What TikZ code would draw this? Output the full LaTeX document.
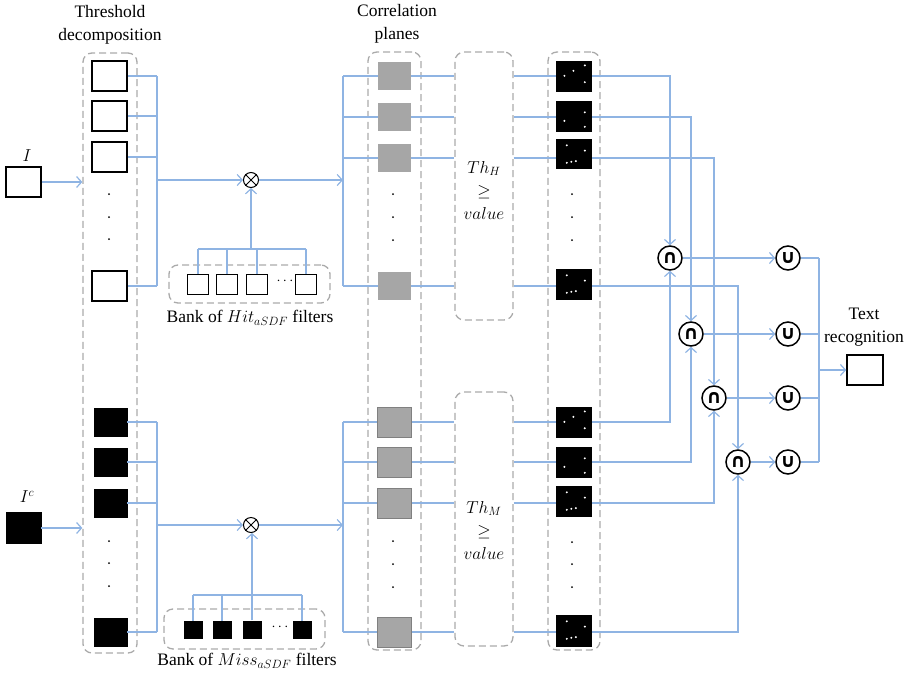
\documentclass[tikz,border=0pt]{standalone}
\usepackage{fontspec}
\setmainfont{Liberation Serif}
\newfontfamily\symfont{DejaVu Sans}
\usetikzlibrary{arrows.meta}
\definecolor{lblue}{RGB}{143,180,227}
\definecolor{dgray}{RGB}{170,170,170}
\definecolor{pgray}{RGB}{166,166,166}
\definecolor{pgrayb}{RGB}{128,128,128}
\newcommand{\patA}[1]{\begin{scope}[shift={(#1.north west)}]
  \fill[white] (8.6,15) circle (1.1) (17.6,10) circle (1.1) (29,4.6) circle (1.1) (29,21.4) circle (1.1);\end{scope}}
\newcommand{\patB}[1]{\begin{scope}[shift={(#1.north west)}]
  \fill[white] (8.6,20) circle (1.1) (29,11.5) circle (1.1) (29,26) circle (1.1);\end{scope}}
\newcommand{\patC}[1]{\begin{scope}[shift={(#1.north west)}]
  \fill[white] (11,6.5) circle (1.1) (29,11.8) circle (1.1) (11,24) circle (1.1) (15.5,23) circle (1.1) (20,22.3) circle (1.1);\end{scope}}
\begin{document}
\begin{tikzpicture}[x=1pt,y=-1pt,
  every node/.style={font=\fontsize{17.5}{23}\selectfont},
  conn/.style={draw=lblue,line width=1.2pt},
  arr/.style={conn,-{Straight Barb[length=5pt,width=11pt]}},
  dbox/.style={draw=dgray,line width=1.3pt,dash pattern=on 7pt off 4pt,rounded corners=9pt,inner sep=0pt},
  wsq/.style={draw=black,line width=1.5pt,fill=white,inner sep=0pt,minimum width=35pt,minimum height=30pt},
  bsq/.style={draw=black,fill=black,inner sep=0pt,minimum width=33pt,minimum height=28pt},
  gsqa/.style={fill=pgray,inner sep=0pt,minimum width=33pt,minimum height=28pt},
  gsqb/.style={fill=pgray,draw=pgrayb,line width=1pt,inner sep=0pt,minimum width=34pt,minimum height=30pt},
  dsq/.style={fill=black,inner sep=0pt,minimum width=36pt,minimum height=31pt},
  hsq/.style={draw=black,line width=1.5pt,fill=white,inner sep=0pt,minimum width=21pt,minimum height=20pt},
  msq/.style={fill=black,inner sep=0pt,minimum width=19pt,minimum height=18pt},
  otimesn/.style={circle,draw=black,line width=1pt,minimum size=15pt,inner sep=0pt},
  setop/.style={circle,draw=black,line width=1.5pt,minimum size=24pt,inner sep=0pt,font=\symfont\bfseries\fontsize{19}{19}\selectfont},
  vdot/.style={circle,fill=black,inner sep=0pt,minimum size=2pt}
]
\useasboundingbox (0,0) rectangle (911,673);

% ---------- labels ----------
\node[align=center] (lthr) at (110,25) {Threshold\\decomposition};
\node[align=center] (lcor) at (397,24) {Correlation\\planes};
\node[align=center] (ltxt) at (864,327) {Text\\recognition};
\node (lI) at (27,156) {$I$};
\node (lIc) at (27,497) {$I^c$};

% ---------- dashed boxes ----------
\node[dbox,minimum width=54pt,minimum height=600pt] (tdbox) at (110,353) {};
\node[dbox,minimum width=161pt,minimum height=38pt] (hbank) at (249.5,284) {};
\node[dbox,minimum width=161pt,minimum height=40pt] (mbank) at (244.5,629) {};
\node[dbox,minimum width=53pt,minimum height=598pt] (cbox) at (394.5,351) {};
\node[dbox,minimum width=58pt,minimum height=268pt] (thh) at (484,186) {};
\node[dbox,minimum width=58pt,minimum height=254pt] (thm) at (484,519) {};
\node[dbox,minimum width=52pt,minimum height=598pt] (rbox) at (574,351) {};

\node[align=center] (thhtxt) at (484,190) {$Th_H$\\$\geq$\\$value$};
\node[align=center] (thmtxt) at (484,530) {$Th_M$\\$\geq$\\$value$};

% ---------- inputs ----------
\node[wsq] (I) at (23.5,182) {};
\node[bsq,minimum width=35pt,minimum height=31pt] (Ic) at (23.5,528) {};

% ---------- threshold squares ----------
\node[wsq] (t1) at (109.5,76) {};
\node[wsq] (t2) at (109.5,116) {};
\node[wsq] (t3) at (109.5,157) {};
\node[wsq] (t4) at (109.5,286) {};
\node[bsq] (b1) at (110.5,422) {};
\node[bsq] (b2) at (110.5,462) {};
\node[bsq] (b3) at (110.5,503) {};
\node[bsq] (b4) at (110.5,632) {};
\foreach \y in {194,217,239,541,563,586} \node[vdot] at (109,\y) {};

% ---------- filter banks ----------
\node[hsq] (hb1) at (198,284.5) {};
\node[hsq] (hb2) at (227,284.5) {};
\node[hsq] (hb3) at (257,284.5) {};
\node[hsq] (hb4) at (306,284.5) {};
\node[font=\fontsize{14}{14}\selectfont] (hdots) at (285,281) {$\cdots$};
\node[msq] (mb1) at (193,630) {};
\node[msq] (mb2) at (222,630) {};
\node[msq] (mb3) at (252,629.5) {};
\node[msq] (mb4) at (302,630) {};
\node[font=\fontsize{14}{14}\selectfont] (mdots) at (280,627) {$\cdots$};
\node (lhit) at (250,318) {Bank of $Hit_{aSDF}$ filters};
\node (lmiss) at (247,661) {Bank of $Miss_{aSDF}$ filters};

% ---------- otimes ----------
\node[otimesn] (ot1) at (251,180) {};
\node[otimesn] (ot2) at (251,525) {};
\foreach \n in {ot1,ot2} \draw[line width=1pt] (\n.45) -- (\n.225) (\n.135) -- (\n.315);

% ---------- correlation planes ----------
\node[gsqa] (g1) at (394.5,76) {};
\node[gsqa] (g2) at (394.5,117) {};
\node[gsqa] (g3) at (394.5,158) {};
\node[gsqa] (g4) at (394.5,286) {};
\node[gsqb] (n1) at (394.5,422) {};
\node[gsqb] (n2) at (394.5,462) {};
\node[gsqb] (n3) at (394.5,503) {};
\node[gsqb] (n4) at (394.5,632) {};
\foreach \y in {194,217,240,541,564,587} \node[vdot] at (393,\y) {};

% ---------- thresholded planes ----------
\node[dsq] (h1) at (574,76.5) {};
\node[dsq] (h2) at (574,116.5) {};
\node[dsq,minimum height=30pt] (h3) at (574,154) {};
\node[dsq] (h4) at (574,284.5) {};
\node[dsq] (m1) at (574,422.5) {};
\node[dsq] (m2) at (574,462.5) {};
\node[dsq] (m3) at (574,501.5) {};
\node[dsq,minimum height=32pt] (m4) at (574,631) {};
\patA{h1}\patB{h2}\patC{h3}\patC{h4}
\patA{m1}\patB{m2}\patC{m3}\patC{m4}
\foreach \y in {194,217,240,542,564,587} \node[vdot] at (572,\y) {};

% ---------- set operations ----------
\node[setop] (cap1) at (670,258) {∩};
\node[setop] (cap2) at (691,334) {∩};
\node[setop] (cap3) at (714,398) {∩};
\node[setop] (cap4) at (738,462) {∩};
\node[setop] (cup1) at (788,258) {∪};
\node[setop] (cup2) at (788,334) {∪};
\node[setop] (cup3) at (788,398) {∪};
\node[setop] (cup4) at (788,462) {∪};
\node[wsq,minimum width=36pt] (res) at (865,370) {};

% ---------- coordinates ----------
\coordinate (tbus) at (157,180);
\coordinate (bbus) at (157,525);
\coordinate (hbus) at (251,249);
\coordinate (mbus) at (252,595);
\coordinate (cbus) at (343,180);
\coordinate (cbusm) at (343,525);
\coordinate (rbus) at (819,370);

% ---------- connectors: inputs ----------
\draw[arr] (I.east) -- (I.east -| tdbox.west);
\draw[arr] (Ic.east) -- (Ic.east -| tdbox.west);

% threshold -> otimes
\foreach \s in {t1,t2,t3,t4} \draw[conn] (\s.east) -- (\s.east -| tbus);
\draw[conn] (t1.east -| tbus) -- (t4.east -| tbus);
\draw[arr] (tbus) -- (ot1.west);
\foreach \s in {b1,b2,b3,b4} \draw[conn] (\s.east) -- (\s.east -| bbus);
\draw[conn] (b1.east -| bbus) -- (b4.east -| bbus);
\draw[arr] (bbus) -- (ot2.west);

% banks -> otimes
\foreach \s in {hb1,hb2,hb3,hb4} \draw[conn] (\s.north) -- (\s.north |- hbus);
\draw[conn] (hb1.north |- hbus) -- (hb4.north |- hbus);
\draw[arr] (hbus) -- (ot1.south -| hbus);
\foreach \s in {mb1,mb2,mb3,mb4} \draw[conn] (\s.north) -- (\s.north |- mbus);
\draw[conn] (mb1.north |- mbus) -- (mb4.north |- mbus);
\draw[arr] (mbus) -- (ot2.south -| mbus);

% otimes -> correlation bus
\draw[arr] (ot1.east) -- (cbus);
\draw[arr] (ot2.east) -- (cbusm);
\draw[conn] (g1.west -| cbus) -- (g4.west -| cbus);
\foreach \s in {g1,g2,g3,g4} \draw[conn] (\s.west -| cbus) -- (\s.west);
\draw[conn] (n1.west -| cbusm) -- (n4.west -| cbusm);
\foreach \s in {n1,n2,n3,n4} \draw[conn] (\s.west -| cbusm) -- (\s.west);

% correlation -> threshold boxes -> result planes
\foreach \s/\r in {g1/h1,g2/h2,g3/h3,g4/h4} {
  \draw[conn] (\s.east) -- (\s.east -| thh.west);
  \draw[conn] (\s.east -| thh.east) -- (\s.east -| \r.west);
}
\foreach \s/\r in {n1/m1,n2/m2,n3/m3,n4/m4} {
  \draw[conn] (\s.east) -- (\s.east -| thm.west);
  \draw[conn] (\s.east -| thm.east) -- (\s.east -| \r.west);
}

% result planes -> intersections
\foreach \s/\r/\c in {g1/h1/cap1,g2/h2/cap2,g3/h3/cap3,g4/h4/cap4}
  \draw[arr] (\s.east -| \r.east) -| (\c.north);
\foreach \s/\r/\c in {n1/m1/cap1,n2/m2/cap2,n3/m3/cap3,n4/m4/cap4}
  \draw[arr] (\s.east -| \r.east) -| (\c.south);

% intersections -> unions -> text recognition
\foreach \c/\u in {cap1/cup1,cap2/cup2,cap3/cup3,cap4/cup4} {
  \draw[arr] (\c.east) -- (\u.west);
  \draw[conn] (\u.east) -- (\u.east -| rbus);
}
\draw[conn] (cup1.east -| rbus) -- (cup4.east -| rbus);
\draw[arr] (rbus) -- (res.west);
\end{tikzpicture}
\end{document}
